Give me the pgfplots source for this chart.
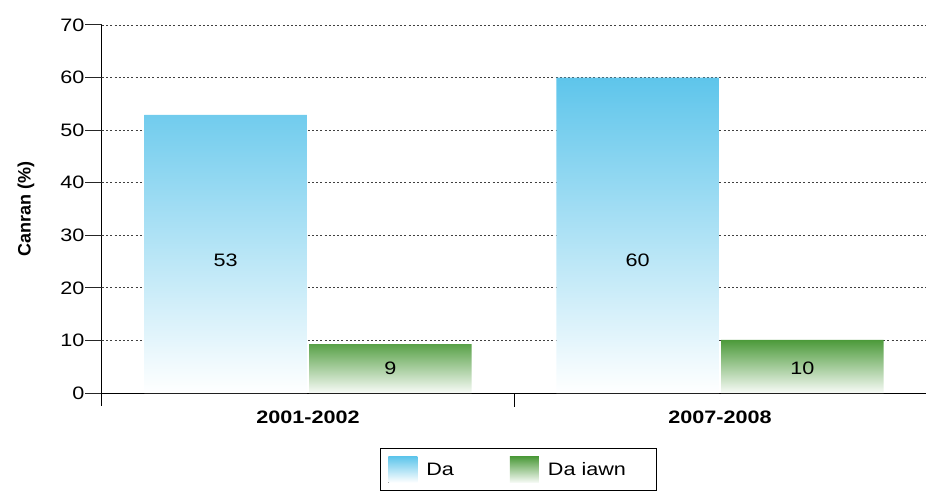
\documentclass[border=0pt]{standalone}
\usepackage{fontspec}
\setmainfont{Liberation Sans}[FakeStretch=1.2]
\newfontfamily\plainsans{Liberation Sans}
\usepackage{pgfplots}
\pgfplotsset{compat=1.18}
\definecolor{DaBlue}{HTML}{5EC5EB}
\definecolor{DaGreen}{HTML}{4C9A3A}
\begin{document}
\begin{tikzpicture}[font=\fontsize{18}{22}\selectfont]
\begin{axis}[
    at={(0,0)}, anchor=south west,
    scale only axis,
    width=824pt, height=368pt,
    clip=false,
    xmin=-0.5, xmax=1.5,
    ymin=0, ymax=70,
    ytick={0,10,...,70},
    xtick={0,1},
    xticklabels={\textbf{2001-2002},\textbf{2007-2008}},
    tick align=outside,
    xtick style={draw=none},
    ytick style={draw=none},
    ytick pos=left,
    axis lines=left,
    axis line style={-, black, line width=1pt},
    ymajorgrids,
    grid style={black!75, line width=0.9pt, dash pattern=on 2pt off 2.2pt},
    /pgf/number format/assume math mode=true,
    yticklabel style={xshift=-12pt},
    xticklabel style={yshift=-10pt},
    ylabel={\plainsans\bfseries Canran (\%)},
    ylabel style={at={(axis description cs:-0.0922,0.5)}, anchor=center},
    ybar, bar width=0.394,
    legend style={at={(0.505,-0.15)}, anchor=north, draw=black, line width=0.8pt,
        legend columns=2, column sep=7pt, inner xsep=8pt, inner ysep=8pt,
        /tikz/every even column/.append style={column sep=54pt}},
    legend cell align=left,
]
\addplot[bar shift=-0.2, draw=none, top color=DaBlue, bottom color=white,
    legend image code/.code={\fill[top color=DaBlue, bottom color=white] (0pt,-13pt) rectangle (29pt,13pt);}]
    coordinates {(0,52.9) (1,60)};
\addlegendentry{Da}
\addplot[bar shift=0.2, draw=none, top color=DaGreen, bottom color=DaGreen!4,
    legend image code/.code={\fill[top color=DaGreen, bottom color=DaGreen!4] (0pt,-13pt) rectangle (29pt,13pt);}]
    coordinates {(0,9.3) (1,10.1)};
\addlegendentry{Da iawn\rule{20pt}{0pt}}
\node at (axis cs:-0.2,25.3) {53};
\node at (axis cs:0.8,25.3) {60};
\node at (axis cs:0.2,4.7) {9};
\node at (axis cs:1.2,4.7) {10};
% tick marks
\pgfplotsinvokeforeach{0,10,20,30,40,50,60,70}{
  \draw[black!85, line width=1pt] (axis cs:-0.5,#1) -- ([xshift=-17pt]axis cs:-0.5,#1);
}
\draw[black, line width=1pt] (axis cs:-0.5,0) -- ([yshift=-13pt]axis cs:-0.5,0);
\draw[black, line width=1pt] (axis cs:0.5,0) -- ([yshift=-14pt]axis cs:0.5,0);
\draw[black, line width=1pt] (axis cs:1.5,0) -- ([yshift=-14pt]axis cs:1.5,0);
\end{axis}
\pgfresetboundingbox
\path[use as bounding box] (-102pt,-97pt) rectangle (824pt,393pt);
\end{tikzpicture}
\end{document}
